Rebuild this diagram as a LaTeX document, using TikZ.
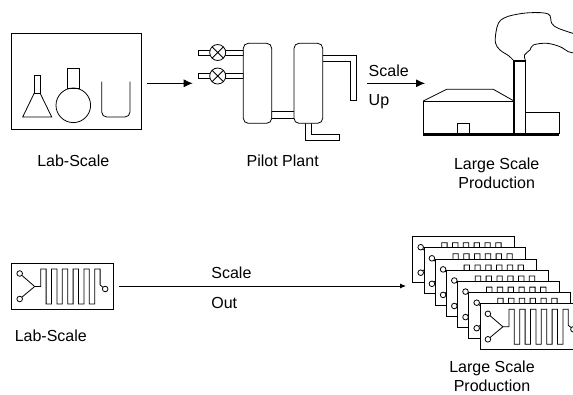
\documentclass[tikz,border=0pt]{standalone}
\usepackage{fontspec}
\setmainfont{Liberation Sans}
\usetikzlibrary{arrows.meta}

\tikzset{
  txt/.style={font=\fontsize{16}{18.5}\selectfont, inner sep=0pt},
  bigflow/.style={-{Latex[length=9pt,width=8pt]}},
  smallflow/.style={-{Latex[length=6pt,width=5pt]}},
  pipe/.style={draw, fill=white},
  % micro reactor chip, origin at its top left corner
  chip/.pic={
    \node[draw, fill=white, minimum width=101.6pt, minimum height=46pt, anchor=north west, inner sep=0pt, outer sep=0pt] (-frame) at (0,0) {};
    \draw (8,10.5) -- (23,23.5) -- (8,36);
    \draw (23,23.5) -- (29,23.5) -- (29,6)
      \foreach \i in {1,...,5}{ -- ++(5.4,0) -- ++(0,35) -- ++(5.4,0) -- ++(0,-35)}
      -- ++(5.4,0) -- (88.4,22) -- (93.5,26);
    \draw[fill=white] (8,10.5) circle (2.8) (8,36) circle (2.8) (93.5,26) circle (2.8);
  }
}

\begin{document}
\begin{tikzpicture}[x=1pt,y=-1pt,line width=0.8pt]
\clip (0,0) rectangle (573,394);

%Shape: Rectangle (glassware box)
\node[draw, minimum width=130pt, minimum height=95.7pt, inner sep=0pt] (labbox) at (76.7,81.2) {};
%Erlenmeyer flask
\draw (34.3,75) rectangle (40,93);
\draw (34.3,93) -- (22.7,117) -- (51.7,117) -- (40,93);
%Round flask
\draw (67.7,68) rectangle (79.3,88);
\draw (73.3,105.3) circle (17.3);
%Beaker
\draw[rounded corners=5pt] (101.7,81.7) -- (101.7,117) -- (130,117) -- (130,81.7);

%Straight Lines (lab -> pilot)
\coordinate (upin) at (192.7,83.3);
\draw[bigflow, shorten <=5pt] (labbox.east |- upin) -- (upin);

%Feed pipes
\draw[pipe] (198.3,50) rectangle (243.3,55);
\draw[pipe] (198.3,73.5) rectangle (243.3,78.5);
%Valves
\draw[fill=white] (217.7,52.5) circle (8);
\draw (217.7,52.5) +(-5.66,-5.66) -- +(5.66,5.66) +(-5.66,5.66) -- +(5.66,-5.66);
\draw[fill=white] (217.7,76) circle (8);
\draw (217.7,76) +(-5.66,-5.66) -- +(5.66,5.66) +(-5.66,5.66) -- +(5.66,-5.66);
%Pipes between and out of the columns
\draw[pipe] (271.7,111.7) rectangle (294,118.3);
\draw[pipe] (322.7,55) -- (356,55) -- (356,100.7) -- (350,100.7) -- (350,61.7) -- (322.7,61.7);
\draw[pipe] (305,123.3) -- (305,140) -- (339.3,140) -- (339.3,134.3) -- (311.7,134.3) -- (311.7,123.3);
%Columns
\draw[rounded corners=5pt, fill=white] (243.3,43.3) rectangle (271.7,123.3);
\draw[rounded corners=5pt, fill=white] (294,43.3) rectangle (322.7,123.3);

%Straight Lines (scale up)
\coordinate (upfrom) at (367.3,83.3);
\coordinate (upto) at (425,83.3);
\draw[bigflow] (upfrom) -- (upto);

%Smoke
\draw plot[smooth, tension=0.6] coordinates {(514,61) (509,56) (500,50) (495.5,43) (496,32) (498.5,23) (503.5,18.3) (513.3,15) (530,12.7) (548.3,14) (551.7,23.3) (558.3,28.3) (575,34)};
\draw plot[smooth, tension=0.6] coordinates {(525.7,61) (524.5,55) (530,50) (533.3,45) (546.7,43.3) (560,46.7) (568.3,51.7) (575,53)};
%Factory
\draw[fill=white, line width=1.1pt] (514,61) rectangle (525.7,134);
\draw (423.3,101) rectangle (514,134);
\draw (423.3,101) -- (446.7,89.3) -- (493.3,89.3) -- (514,101);
\draw (525.7,112.3) -- (559.3,112.3) -- (559.3,134);
\draw (457.3,134) rectangle (469.3,123.3);
\draw[line width=3.3pt] (423.3,134.5) -- (559.3,134.5);

%Chips
\pic (lab) at (11.7,263) {chip};
\pic (stacka) at (412.7,236.7) {chip};
\pic (stackb) at (423.9,247.8) {chip};
\pic (stackc) at (435.1,258.9) {chip};
\pic (stackd) at (446.3,270.0) {chip};
\pic (stacke) at (457.5,281.1) {chip};
\pic (stackf) at (468.7,292.2) {chip};
\pic (stackg) at (479.9,303.3) {chip};

%Straight Lines (scale out)
\coordinate (outto) at (406,286);
\draw[smallflow, shorten <=6pt] (lab-frame.east) -- (outto);

% Text Node
\node[txt, anchor=base] (labname) at (73.3,166) {Lab-Scale};
\node[txt, anchor=base] (pilotname) at (282.7,166) {Pilot Plant};
\node[txt, anchor=base, align=center] (bigname) at (496.7,188.3) {Large Scale\\Production};
\node[txt, anchor=base west] (upword) at (368.3,76) {Scale};
\node[txt, anchor=base west] (upwordb) at (368.3,105) {Up};
\node[txt, anchor=base west] (outword) at (211,278.3) {Scale};
\node[txt, anchor=base west] (outwordb) at (211,308.3) {Out};
\node[txt, anchor=base] (chipname) at (50.8,341.5) {Lab-Scale};
\node[txt, anchor=base, align=center] (stackname) at (492,391) {Large Scale\\Production};
\end{tikzpicture}
\end{document}
